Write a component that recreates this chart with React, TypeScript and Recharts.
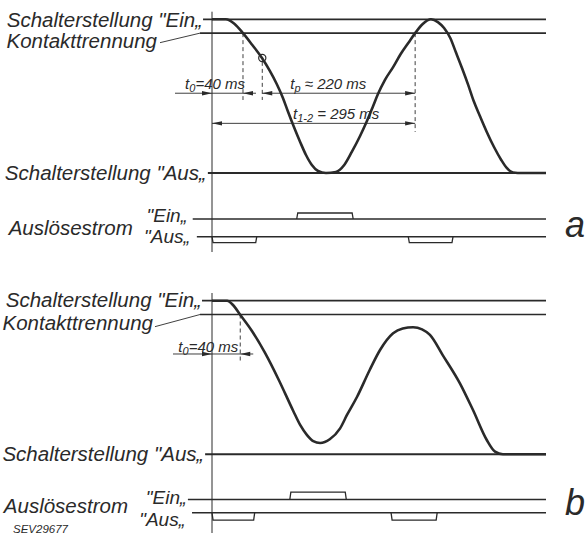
import React from 'react';
import { LineChart, Line, XAxis, YAxis, ReferenceLine, ReferenceDot } from 'recharts';

const INK = '#2a2a2a';
const FONT = '"Liberation Sans", Arimo, Arial, sans-serif';
const W = 586;
const H = 268;

// time after the trip command, ms
const timeStart = -90;
const timeEnd = 485;
const zeroX = 212;
const plotRight = 546;
const k = (plotRight - zeroX) / timeEnd;
const plotLeft = zeroX + timeStart * k;

// switch travel in %: 100 = "Ein", 0 = "Aus"
const contactLevel = 91;

const curveA = [
  { t: 0, pos: 100 }, { t: 20, pos: 100 }, { t: 32, pos: 97.3 }, { t: 45, pos: 91 },
  { t: 58, pos: 83.6 }, { t: 72.6, pos: 74.8 }, { t: 84, pos: 66.4 }, { t: 94, pos: 57.9 },
  { t: 103, pos: 48.8 }, { t: 110, pos: 40.3 }, { t: 119, pos: 29.9 }, { t: 128, pos: 20.2 },
  { t: 136.5, pos: 11.7 }, { t: 145, pos: 5.2 }, { t: 154, pos: 1.3 }, { t: 165.5, pos: 0 },
  { t: 180, pos: 0.7 }, { t: 192, pos: 5.2 }, { t: 203, pos: 13.7 }, { t: 215, pos: 24.1 },
  { t: 225, pos: 33.8 }, { t: 234, pos: 43.6 }, { t: 241, pos: 51.4 }, { t: 251, pos: 60.5 },
  { t: 263, pos: 68.9 }, { t: 274, pos: 77.4 }, { t: 285, pos: 84.6 }, { t: 295, pos: 91 },
  { t: 306, pos: 96.9 }, { t: 318, pos: 100 }, { t: 328, pos: 98.2 }, { t: 337, pos: 94.3 },
  { t: 346, pos: 87.8 }, { t: 354, pos: 78.7 }, { t: 363, pos: 68.3 }, { t: 372, pos: 57.3 },
  { t: 380, pos: 46.8 }, { t: 389, pos: 37.1 }, { t: 399, pos: 26.7 }, { t: 409.5, pos: 16.9 },
  { t: 420, pos: 8.5 }, { t: 428, pos: 3.3 }, { t: 437, pos: 0.3 }, { t: 444, pos: 0 },
  { t: 485, pos: 0 },
];

const curveB = [
  { t: 0, pos: 100 }, { t: 22, pos: 100 }, { t: 30.5, pos: 97.2 }, { t: 40.7, pos: 91 },
  { t: 58, pos: 80.3 }, { t: 77, pos: 66 }, { t: 97, pos: 48.4 }, { t: 118, pos: 28.2 },
  { t: 128, pos: 19.1 }, { t: 138, pos: 12.5 }, { t: 147, pos: 8.6 }, { t: 157, pos: 7.4 },
  { t: 171, pos: 9.8 }, { t: 186, pos: 16.9 }, { t: 196, pos: 25.6 }, { t: 210.5, pos: 37.3 },
  { t: 229, pos: 54.9 }, { t: 244, pos: 67.9 }, { t: 263, pos: 78.8 }, { t: 277, pos: 81.9 },
  { t: 292, pos: 82.7 }, { t: 305, pos: 81.3 }, { t: 316.5, pos: 77.7 }, { t: 335, pos: 64.6 },
  { t: 360, pos: 46.2 }, { t: 379, pos: 28.8 }, { t: 399, pos: 9.3 }, { t: 411, pos: 1.7 },
  { t: 422.5, pos: 0 }, { t: 485, pos: 0 },
];

// trip current pulses [start, end], ms
const einPulsesA = [[123, 205]];
const ausPulsesA = [[0, 65], [285, 350]];
const einPulsesB = [[113, 195]];
const ausPulsesB = [[0, 62], [260, 327]];

// marked times, ms
const contactA = 45;
const markA = { t: 73, pos: 74.8 };
const t12A = 295;
const contactB = 41;

const names = {
  ein: 'Schalterstellung "Ein„',
  aus: 'Schalterstellung "Aus„',
  kontakt: 'Kontakttrennung',
  strom: 'Auslösestrom',
  einShort: '"Ein„',
  ausShort: '"Aus„',
};

// pulse outlines; the channel baseline is drawn separately underneath
function pulseTrain(level: number, pulses: number[][], amp: number) {
  const pts: { t: number; v: number | null }[] = [];
  for (const [a, b] of pulses) {
    pts.push({ t: a, v: level }, { t: a + 1.5, v: level + amp }, { t: b - 1.5, v: level + amp }, { t: b, v: level }, { t: b + 0.01, v: null });
  }
  return pts;
}

const tag = (text: string, dx: number, dy: number, size = 20.5, anchor = 'end', fromBottom = false) =>
  (p: any) => {
    const vb = p.viewBox || {};
    const y = fromBottom ? vb.y + vb.height : vb.y;
    return (
      <text x={vb.x + dx} y={y + dy} textAnchor={anchor} fontSize={size} fontStyle="italic" fontFamily={FONT} fill={INK}>
        {text}
      </text>
    );
  };

const dimText = (main: string, sub: string, rest: string, dx: number, dy: number, anchor: string, fromRight = false) =>
  (p: any) => {
    const vb = p.viewBox || {};
    const x = (fromRight ? vb.x + vb.width : vb.x) + dx;
    return (
      <text x={x} y={vb.y + dy} textAnchor={anchor} fontSize={15} fontStyle="italic" fontFamily={FONT} fill={INK}>
        {main}
        <tspan fontSize={11} dy={3}>{sub}</tspan>
        <tspan dy={-3}>{rest}</tspan>
      </text>
    );
  };

const arrow = (x: number, y: number, dir: number) => (
  <polygon points={`${x},${y} ${x - dir * 10},${y - 2.2} ${x - dir * 10},${y + 2.2}`} fill={INK} />
);

const dimShape = (outside: boolean, extL = 0, extR = 0) => (p: any) => {
  const a = Math.min(p.x1, p.x2);
  const b = Math.max(p.x1, p.x2);
  const y = p.y1;
  if (outside) {
    return (
      <g>
        <line x1={a - extL} x2={b + extR} y1={y} y2={y} stroke={INK} strokeWidth={0.9} />
        {arrow(a, y, 1)}
        {arrow(b, y, -1)}
      </g>
    );
  }
  return (
    <g>
      <line x1={a} x2={b} y1={y} y2={y} stroke={INK} strokeWidth={0.9} />
      {arrow(a, y, -1)}
      {arrow(b, y, 1)}
    </g>
  );
};

function Panel(props: any) {
  const { layout: l, curve, einPulses, ausPulses, s, lab, letter, children } = props;
  const u = (l.ausY - l.einY) / 100;
  const c = l.curAusY - l.curEinY;
  const posDomain = [-(l.plotBottom - l.ausY) / u, 100 + (l.einY - l.plotTop) / u];
  const curDomain = [-(l.plotBottom - l.curAusY) / c, 1 + (l.curEinY - l.plotTop) / c];
  const amp = l.pulse / c;
  const einBase = [{ t: s.curEin, v: 1 }, { t: timeEnd, v: 1 }];
  const ausBase = [{ t: s.curAus, v: 0 }, { t: timeEnd, v: 0 }];
  const einSeries = pulseTrain(1, einPulses, amp);
  const ausSeries = pulseTrain(0, ausPulses, -amp);

  return (
    <LineChart
      width={W}
      height={H}
      margin={{ top: l.plotTop, bottom: H - l.plotBottom, left: plotLeft, right: W - plotRight }}
      style={{ display: 'block' }}
    >
      <XAxis type="number" dataKey="t" domain={[timeStart, timeEnd]} hide allowDataOverflow />
      <YAxis yAxisId="pos" type="number" domain={posDomain} hide allowDataOverflow />
      <YAxis yAxisId="cur" type="number" domain={curDomain} hide allowDataOverflow />

      <ReferenceLine yAxisId="pos" x={0} stroke={INK} strokeWidth={1} />

      <ReferenceLine
        yAxisId="pos"
        segment={[{ x: s.ein, y: 100 }, { x: timeEnd, y: 100 }]}
        stroke={INK}
        strokeWidth={1.7}
        label={tag(names.ein, lab.ein[0], lab.ein[1])}
      />
      <ReferenceLine
        yAxisId="pos"
        segment={[{ x: s.kontakt, y: contactLevel }, { x: timeEnd, y: contactLevel }]}
        stroke={INK}
        strokeWidth={1.6}
      />
      <ReferenceLine
        yAxisId="pos"
        segment={[{ x: s.kontakt, y: contactLevel }, { x: s.leader[0], y: s.leader[1] }]}
        stroke={INK}
        strokeWidth={0.9}
        label={tag(names.kontakt, lab.kontakt[0], lab.kontakt[1], 20.5, 'end', true)}
      />
      <ReferenceLine
        yAxisId="pos"
        segment={[{ x: s.aus, y: 0 }, { x: timeEnd, y: 0 }]}
        stroke={INK}
        strokeWidth={2.1}
        label={tag(names.aus, lab.aus[0], lab.aus[1])}
      />

      {children}

      <Line
        data={curve}
        dataKey="pos"
        yAxisId="pos"
        type="monotone"
        stroke={INK}
        strokeWidth={2.6}
        dot={false}
        isAnimationActive={false}
      />
      <Line data={einBase} dataKey="v" yAxisId="cur" type="linear" stroke={INK} strokeWidth={1.4} dot={false} isAnimationActive={false} />
      <Line data={ausBase} dataKey="v" yAxisId="cur" type="linear" stroke={INK} strokeWidth={1.4} dot={false} isAnimationActive={false} />
      <Line data={einSeries} dataKey="v" yAxisId="cur" type="linear" stroke={INK} strokeWidth={1.3} dot={false} isAnimationActive={false} />
      <Line data={ausSeries} dataKey="v" yAxisId="cur" type="linear" stroke={INK} strokeWidth={1.3} dot={false} isAnimationActive={false} />

      <ReferenceLine
        yAxisId="cur"
        segment={[{ x: s.curEin, y: 1 }, { x: s.curEin, y: 1 }]}
        stroke="none"
        label={tag(names.einShort, lab.einShort[0], lab.einShort[1], 19)}
      />
      <ReferenceLine
        yAxisId="cur"
        segment={[{ x: s.curAus, y: 0 }, { x: s.curAus, y: 0 }]}
        stroke="none"
        label={tag(names.ausShort, lab.ausShort[0], lab.ausShort[1], 19)}
      />
      <ReferenceLine
        yAxisId="cur"
        segment={[{ x: s.curAus, y: 0 }, { x: s.curAus, y: 0 }]}
        stroke="none"
        label={tag(names.strom, lab.strom[0], lab.strom[1], 20.5)}
      />
      <ReferenceLine
        yAxisId="cur"
        segment={[{ x: timeEnd, y: 0 }, { x: timeEnd, y: 0 }]}
        stroke="none"
        label={tag(letter, lab.letter[0], lab.letter[1], 36, 'start')}
      />
      {lab.code ? (
        <ReferenceLine
          yAxisId="cur"
          segment={[{ x: s.curAus, y: 0 }, { x: s.curAus, y: 0 }]}
          stroke="none"
          label={tag(lab.code[2], lab.code[0], lab.code[1], 11.5, 'start')}
        />
      ) : null}
    </LineChart>
  );
}

const layoutA = { plotTop: 11.7, plotBottom: 252, einY: 19.3, ausY: 173, curEinY: 219, curAusY: 236.7, pulse: 6 };
const layoutB = { plotTop: 25, plotBottom: 265, einY: 32.7, ausY: 186.3, curEinY: 231.5, curAusY: 244.7, pulse: 7.4 };

const startsA = { ein: -13, kontakt: -17.4, aus: -6, curEin: -28, curAus: -22, leader: [-75.5, 84.8] };
const startsB = { ein: -14.5, kontakt: -17.4, aus: -10, curEin: -35, curAus: -29, leader: [-82.8, 83.1] };

const labA = {
  ein: [-1, 7.4], kontakt: [-3, 5.6], aus: [-2, 7],
  einShort: [-5.7, 2.7], ausShort: [-7, 6.6], strom: [-64, -1.7], letter: [19, 0.5],
};
const labB = {
  ein: [-1, 6], kontakt: [-2, 3.3], aus: [-1.7, 6.4],
  einShort: [-1.5, 4.5], ausShort: [-7, 13.3], strom: [-64, 0.6], letter: [19, 2.3],
  code: [-179, 20.6, 'SEV29677'],
};

export default function App() {
  const dash = { stroke: INK, strokeWidth: 0.9, strokeDasharray: '4 3' };
  return (
    <div style={{ position: 'absolute', left: 0, top: 0, width: W, height: 536, background: '#fff' }}>
      <Panel layout={layoutA} curve={curveA} einPulses={einPulsesA} ausPulses={ausPulsesA} s={startsA} lab={labA} letter="a">
        <ReferenceLine yAxisId="pos" segment={[{ x: contactA, y: contactLevel }, { x: contactA, y: 47.5 }]} {...dash} />
        <ReferenceLine yAxisId="pos" segment={[{ x: markA.t, y: markA.pos - 2.5 }, { x: markA.t, y: 47.5 }]} {...dash} />
        <ReferenceLine yAxisId="pos" segment={[{ x: t12A, y: contactLevel }, { x: t12A, y: 26.7 }]} {...dash} />
        <ReferenceLine
          yAxisId="pos"
          segment={[{ x: 0, y: 51.9 }, { x: contactA, y: 51.9 }]}
          shape={dimShape(true, 37, 13)}
          label={dimText('t', '0', '=40 ms', 2, -4.3, 'end', true)}
        />
        <ReferenceLine
          yAxisId="pos"
          segment={[{ x: markA.t, y: 51.9 }, { x: t12A, y: 51.9 }]}
          shape={dimShape(false)}
          label={dimText('t', 'p', ' ≈ 220 ms', 28, -4, 'start')}
        />
        <ReferenceLine
          yAxisId="pos"
          segment={[{ x: 0, y: 32.3 }, { x: t12A, y: 32.3 }]}
          shape={dimShape(false)}
          label={dimText('t', '1-2', ' = 295 ms', 81, -4, 'start')}
        />
        <ReferenceDot yAxisId="pos" x={markA.t} y={markA.pos} r={3.6} fill="none" stroke={INK} strokeWidth={1.2} />
      </Panel>
      <Panel layout={layoutB} curve={curveB} einPulses={einPulsesB} ausPulses={ausPulsesB} s={startsB} lab={labB} letter="b">
        <ReferenceLine yAxisId="pos" segment={[{ x: contactB, y: contactLevel }, { x: contactB, y: 59.4 }]} {...dash} />
        <ReferenceLine
          yAxisId="pos"
          segment={[{ x: 0, y: 65.3 }, { x: contactB, y: 65.3 }]}
          shape={dimShape(true, 39, 13)}
          label={dimText('t', '0', '=40 ms', -2, -2.3, 'end', true)}
        />
      </Panel>
    </div>
  );
}
